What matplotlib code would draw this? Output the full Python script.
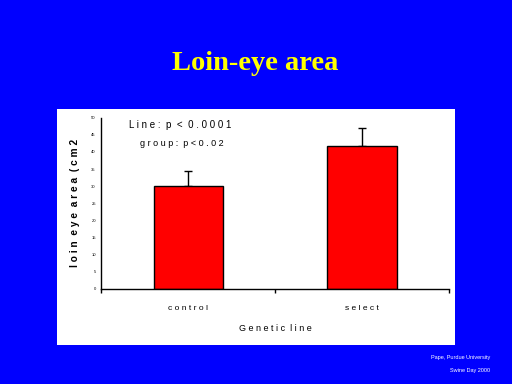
import matplotlib.pyplot as plt
from matplotlib.patches import Rectangle

# values
groups = ['control', 'select']
loin_eye = [30.0, 41.7]
err_up = [4.3, 5.2]
y_ticks = [0, 5, 10, 15, 20, 25, 30, 35, 40, 45, 50]

fig = plt.figure(figsize=(5.12, 3.84), dpi=100)
fig.patch.set_facecolor('#0000ff')

# white panel behind the chart
fig.patches.append(Rectangle((0.112, 0.102), 0.776, 0.614, transform=fig.transFigure,
                             facecolor='white', edgecolor='none', zorder=-10))

fig.text(0.498, 0.818, 'Loin-eye area', color='#ffff00', fontsize=20.5, fontweight='bold',
         family='Liberation Serif', ha='center', va='baseline')

ax = fig.add_axes([0.198, 0.248, 0.679, 0.4455])
ax.set_zorder(5)
ax.set_facecolor('white')
x = list(range(len(groups)))
ax.bar(x, loin_eye, width=0.4, color='#ff0000', edgecolor='black', linewidth=1, zorder=2)
ax.errorbar(x, loin_eye, yerr=[[0, 0], err_up], fmt='none', ecolor='black',
            elinewidth=1, capsize=3, capthick=1, zorder=1)

ax.set_xlim(-0.5, 1.5)
ax.set_ylim(0, 50)
ax.set_yticks(y_ticks)
ax.set_yticklabels([str(t) for t in y_ticks], fontsize=3, family='Liberation Sans')
ax.tick_params(axis='y', length=0, pad=4)

ax.set_xticks([-0.5, 0.5, 1.5])
ax.set_xticklabels(['', '', ''])
ax.set_xticks(x, minor=True)
ax.set_xticklabels(['c o n t r o l', 's e l e c t'], minor=True, fontsize=6,
                   family='Liberation Sans')
ax.tick_params(axis='x', which='major', length=3, direction='out', width=1)
ax.tick_params(axis='x', which='minor', length=0, pad=12)

for s in ['top', 'right']:
    ax.spines[s].set_visible(False)
for s in ['left', 'bottom']:
    ax.spines[s].set_linewidth(1)

ax.set_ylabel('l o i n  e y e  a r e a  ( c m 2', fontsize=7.3, fontweight='bold',
              family='Liberation Sans', labelpad=8)
ax.set_xlabel('G e n e t i c  l i n e', fontsize=6.5, family='Liberation Sans', labelpad=8)

ax.text(0.08, 0.955, 'L i n e :  p  <  0 . 0 0 0 1', transform=ax.transAxes, fontsize=7,
        family='Liberation Sans', va='center')
ax.text(0.11, 0.85, 'g r o u p :  p < 0 . 0 2', transform=ax.transAxes, fontsize=6.5,
        family='Liberation Sans', va='center')

fig.text(0.957, 0.07, 'Pape, Purdue University', color='white', fontsize=4,
         family='Liberation Sans', ha='right', va='center')
fig.text(0.957, 0.036, 'Swine Day 2000', color='white', fontsize=4,
         family='Liberation Sans', ha='right', va='center')

fig.savefig('out.png', dpi=100, facecolor=fig.get_facecolor())
